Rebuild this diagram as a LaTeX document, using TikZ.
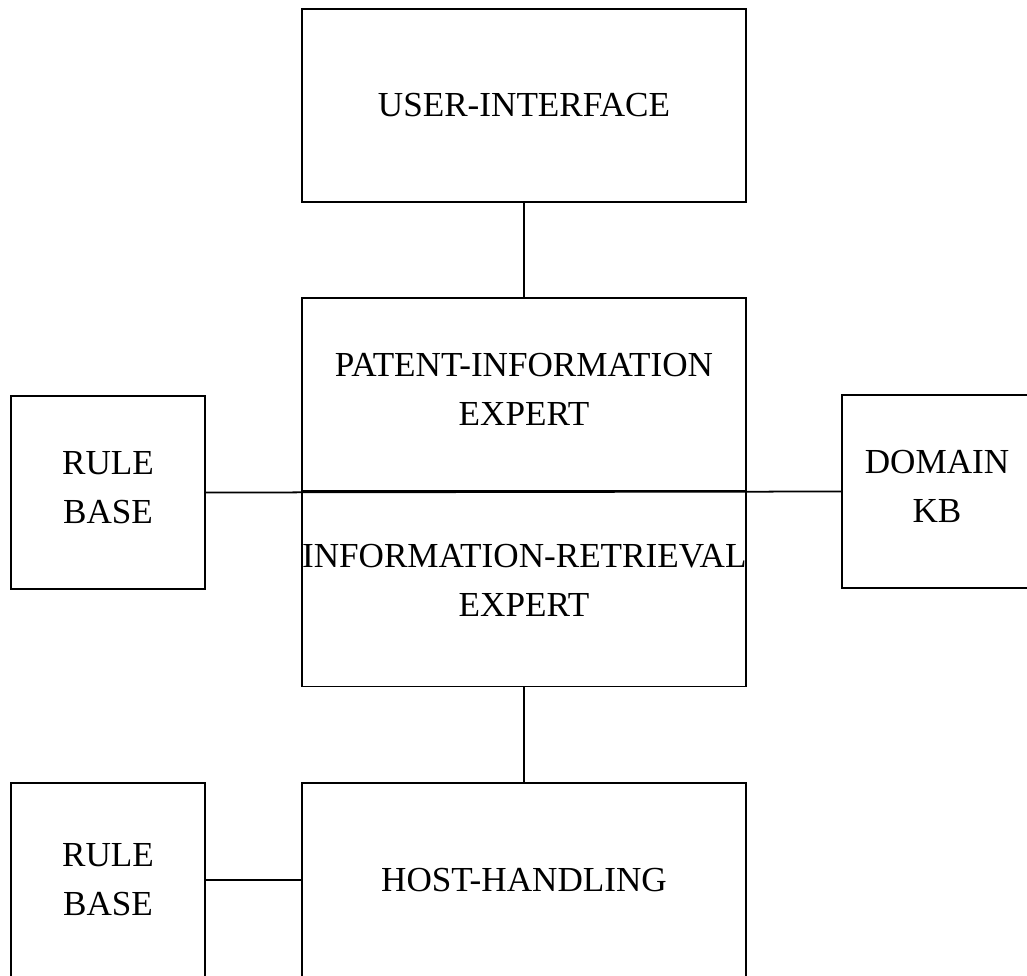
\documentclass[tikz,border=0pt]{standalone}
\usepackage{fontspec}
\setmainfont{Liberation Serif}
\usetikzlibrary{positioning}

\begin{document}
\begin{tikzpicture}[
    x=0.02cm, y=-0.02cm,
    block/.style={rectangle, draw, line width=1pt, inner sep=0pt, align=center, font=\fontsize{20}{28}\selectfont},
    wide/.style={block, minimum width=8.88cm, text width=8.88cm},
    narrow/.style={block, minimum width=3.88cm, text width=3.88cm},
    link/.style={line width=1pt}
]
\useasboundingbox (0,0) rectangle (1027,975);
\clip (0,0) rectangle (1027,975);

% Expert level
\node[wide, minimum height=3.86cm] (ui) at (524,105.5) {USER-INTERFACE};
\node[wide, minimum height=3.86cm, text depth=34pt] (patexp) at (524,394.5) {PATENT-INFORMATION\\EXPERT};
\node[wide, minimum height=3.9cm, text depth=38pt] (irexp) at (524,589) {\mbox{INFORMATION-RETRIEVAL}\\EXPERT};
\node[wide, minimum height=3.88cm] (host) at (524,880) {HOST-HANDLING};

% Knowledge bases
\node[narrow, minimum height=3.86cm, text depth=34pt] (rules1) at (108,492.5) {RULE\\BASE};
\node[narrow, minimum width=3.8cm, text width=3.8cm, minimum height=3.86cm, text depth=34pt] (domkb) at (937,491.5) {DOMAIN\\KB};
\node[narrow, minimum height=3.88cm] (rules2) at (108,880) {RULE\\BASE};

% Connections
\draw[link] (ui) -- (patexp);
\draw[link] (rules1.east) -- (domkb.west);
\draw[link] (irexp) -- (host);
\draw[link] (rules2) -- (host);

\end{tikzpicture}
\end{document}
